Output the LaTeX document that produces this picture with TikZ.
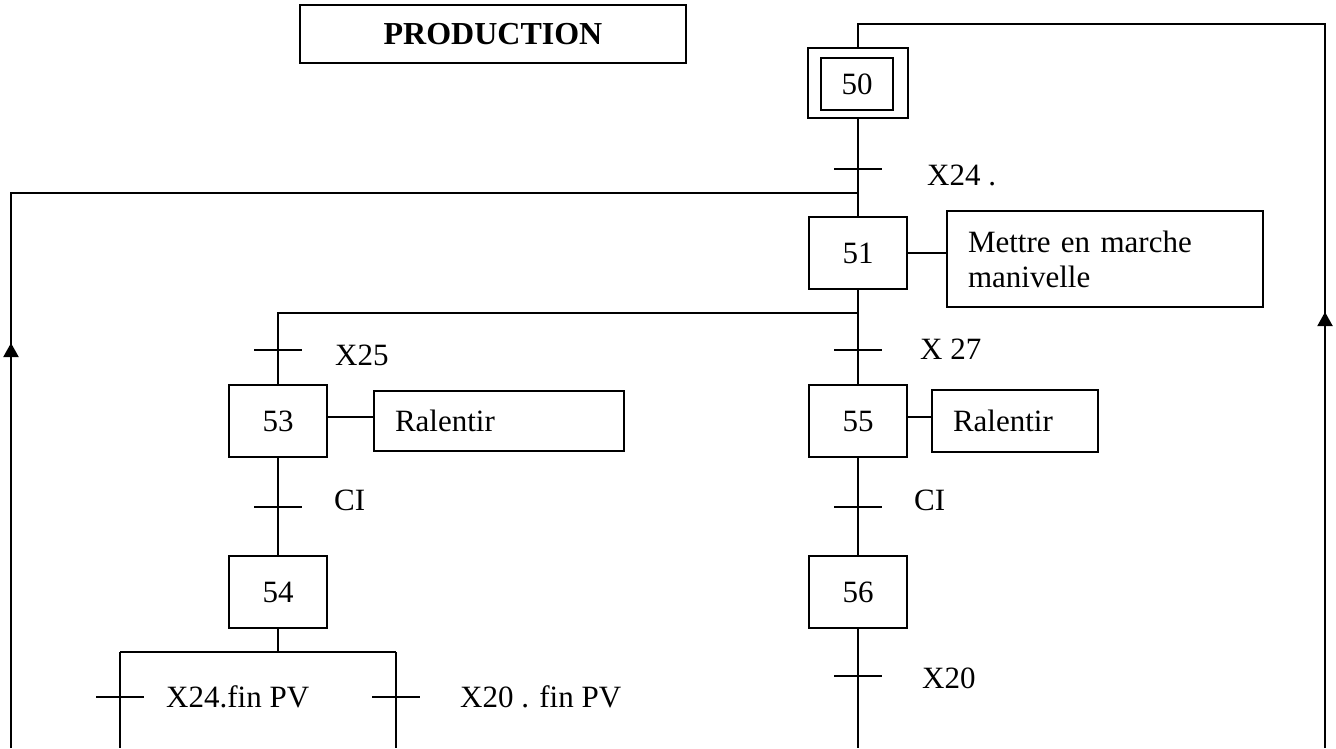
\documentclass[tikz,border=0pt]{standalone}
\usepackage{fontspec}
\setmainfont{Liberation Serif}
\usetikzlibrary{arrows.meta,calc}
\tikzset{
  ln/.style={line width=2pt},
  stepbox/.style={draw, line width=2pt, minimum width=98pt, minimum height=72pt, inner sep=0pt, font=\fontsize{31}{35}\selectfont},
  actbox/.style={draw, line width=2pt, inner xsep=21pt, inner ysep=0pt, align=left, font=\fontsize{31}{35}\selectfont},
  lbl/.style={anchor=west, inner sep=0pt, font=\fontsize{31}{35}\selectfont},
  tick/.style={line width=2pt},
  uparrow/.style={line width=2pt, -{Triangle[length=14pt,width=15pt]}}
}
\begin{document}
\begin{tikzpicture}[x=1pt,y=-1pt]
\useasboundingbox (0,0) rectangle (1336,748);
\fill[white] (0,0) rectangle (1336,748);

% title
\node[draw, line width=2pt, minimum width=386pt, minimum height=58pt, font=\fontsize{32}{36}\selectfont\bfseries] (title) at (493,34) {PRODUCTION};

% steps
\node[stepbox, minimum width=100pt, minimum height=70pt] (s50) at (858,83) {};
\node[draw, line width=2pt, minimum width=72pt, minimum height=52pt, inner sep=0pt, font=\fontsize{31}{35}\selectfont] (s50i) at (857,84) {50};
\node[stepbox] (s51) at (858,253) {51};
\node[stepbox] (s53) at (278,421) {53};
\node[stepbox] (s54) at (278,592) {54};
\node[stepbox] (s55) at (858,421) {55};
\node[stepbox] (s56) at (858,592) {56};

% actions
\node[actbox, minimum width=316pt, minimum height=96pt, text width=274pt] (a51) at (1105,259) {Mettre en marche\\manivelle};
\node[actbox, minimum width=250pt, minimum height=60pt, text width=208pt] (a53) at (499,421) {Ralentir};
\node[actbox, minimum width=166pt, minimum height=62pt, text width=124pt] (a55) at (1015,421) {Ralentir};

% coordinates
\coordinate (top) at (858,24);
\coordinate (topR) at (1325,24);
\coordinate (botR) at (1325,748);
\coordinate (loopL) at (11,193);
\coordinate (botL) at (11,748);
\coordinate (join51) at (858,193);
\coordinate (div) at (858,313);
\coordinate (divL) at (278,313);
\coordinate (c54) at (278,652);
\coordinate (convL) at (120,652);
\coordinate (convR) at (396,652);
\coordinate (bL1) at (120,748);
\coordinate (bR1) at (396,748);
\coordinate (b56) at (858,748);

% main connectors
\draw[ln] (s50.south) -- (s51.north);
\draw[ln] (s51.south) -- (div) -- (s55.north);
\draw[ln] (div) -- (divL) -- (s53.north);
\draw[ln] (s53.south) -- (s54.north);
\draw[ln] (s54.south) -- (c54);
\draw[ln] (convL) -- (convR);
\draw[ln] (convL) -- (bL1);
\draw[ln] (convR) -- (bR1);
\draw[ln] (s55.south) -- (s56.north);
\draw[ln] (s56.south) -- (b56);

% action connectors
\draw[ln] (s51.east) -- (s51.east -| a51.west);
\draw[ln] ($(s53.east)+(0,-4)$) -- ($(s53.east -| a53.west)+(0,-4)$);
\draw[ln] ($(s55.east)+(0,-4)$) -- ($(s55.east -| a55.west)+(0,-4)$);

% loops
\draw[ln] (botR) -- (topR) -- (top) -- (s50.north);
\draw[uparrow] (1325,407) -- (1325,312);
\draw[ln] (botL) -- (loopL) -- (join51);
\draw[uparrow] (11,437) -- (11,343);

% transitions
\draw[tick] (834,169) -- (882,169);
\node[lbl] (t1) at (927,175) {X24 .};
\draw[tick] (834,350) -- (882,350);
\node[lbl] (t2) at (920,349) {X 27};
\draw[tick] (254,350) -- (302,350);
\node[lbl] (t3) at (335,355) {X25};
\draw[tick] (254,507) -- (302,507);
\node[lbl] (t4) at (334,500) {CI};
\draw[tick] (834,507) -- (882,507);
\node[lbl] (t5) at (914,500) {CI};
\draw[tick] (834,676) -- (882,676);
\node[lbl] (t6) at (922,678) {X20};
\draw[tick] (96,697) -- (144,697);
\node[lbl] (t7) at (166,697) {X24.fin PV};
\draw[tick] (372,697) -- (420,697);
\node[lbl] (t8) at (460,697) {X20 . fin PV};
\end{tikzpicture}
\end{document}
